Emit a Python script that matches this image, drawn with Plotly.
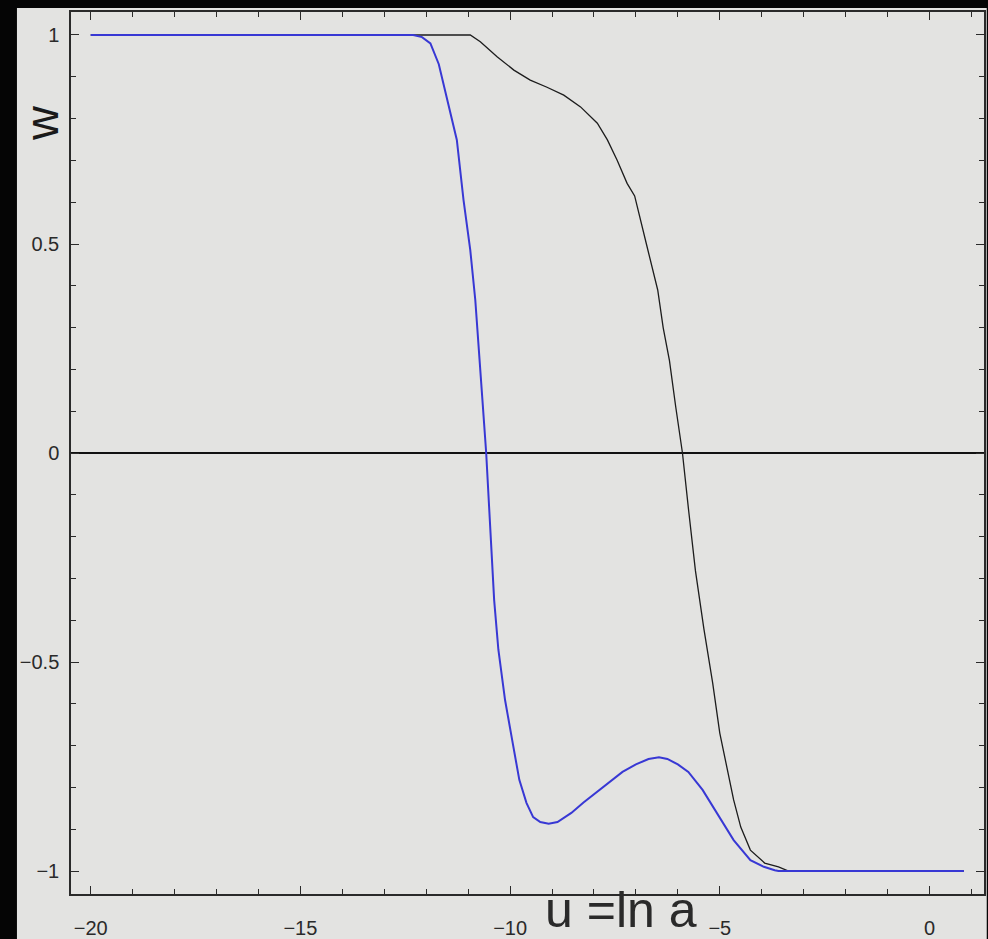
import plotly.graph_objects as go

# ---- data ----
blue_u = [-20.0, -12.31, -12.10, -11.90, -11.70, -11.50, -11.27, -11.11, -10.95, -10.83,
          -10.74, -10.66, -10.57, -10.50, -10.44, -10.38, -10.28, -10.12, -9.95, -9.78,
          -9.61, -9.45, -9.28, -9.08, -8.87, -8.54, -8.25, -7.96, -7.64, -7.32,
          -7.00, -6.70, -6.45, -6.25, -6.00, -5.75, -5.41, -5.08, -4.67, -4.27,
          -3.95, -3.69, -3.60, 0.82]
blue_w = [1.0, 1.0, 0.995, 0.980, 0.930, 0.845, 0.749, 0.605, 0.486, 0.366,
          0.25, 0.127, 0.0, -0.12, -0.235, -0.352, -0.47, -0.591, -0.687, -0.782,
          -0.837, -0.871, -0.883, -0.887, -0.883, -0.861, -0.836, -0.813, -0.788, -0.763,
          -0.745, -0.732, -0.728, -0.732, -0.745, -0.763, -0.806, -0.861, -0.926, -0.974,
          -0.99, -0.998, -1.0, -1.0]

black_u = [-20.0, -10.95, -10.71, -10.31, -9.91, -9.52, -9.12, -8.72, -8.32, -7.92,
           -7.68, -7.45, -7.21, -7.03, -6.75, -6.48, -6.35, -6.20, -6.05, -5.89,
           -5.74, -5.58, -5.38, -5.17, -5.00, -4.84, -4.67, -4.50, -4.27, -3.93,
           -3.60, -3.36, 0.82]
black_w = [1.0, 1.0, 0.984, 0.948, 0.916, 0.892, 0.875, 0.856, 0.828, 0.789,
           0.749, 0.701, 0.645, 0.615, 0.50, 0.39, 0.30, 0.221, 0.11, 0.0,
           -0.14, -0.282, -0.42, -0.55, -0.67, -0.751, -0.830, -0.895, -0.950, -0.981,
           -0.99, -1.0, -1.0]

x_tickvals = [-20, -15, -10, -5, 0]
x_ticktext = ["\u221220", "\u221215", "\u221210", "\u22125", "0"]
y_tickvals = [1, 0.5, 0, -0.5, -1]
y_ticktext = ["1", "0.5", "0", "\u22120.5", "\u22121"]

x_title = "u =ln a"
y_title = "w"

BG = "#e3e3e1"
FONT = "Liberation Sans Narrow, Liberation Sans, Arial, sans-serif"

fig = go.Figure()
fig.add_trace(go.Scatter(x=black_u, y=black_w, mode="lines",
                         line=dict(color="#1c1c1c", width=1.3), showlegend=False))
fig.add_trace(go.Scatter(x=blue_u, y=blue_w, mode="lines",
                         line=dict(color="#3838d4", width=2), showlegend=False))

axis_common = dict(
    showline=True, linecolor="#2a2a2a", linewidth=1.5, mirror="ticks",
    ticks="inside", ticklen=8, tickwidth=1.3, tickcolor="#2a2a2a",
    showgrid=False, tickmode="array", automargin=False,
    tickfont=dict(family=FONT, size=20, color="#2a2a2a"),
)

fig.update_xaxes(
    **axis_common, range=[-20.47, 1.30], zeroline=False,
    tickvals=x_tickvals, ticktext=x_ticktext, ticklabelstandoff=15,
    minor=dict(tickmode="linear", tick0=0, dtick=1, ticks="inside", ticklen=5,
               tickwidth=1.1, tickcolor="#2a2a2a", showgrid=False),
)
fig.update_yaxes(
    **axis_common, range=[-1.055, 1.055], zeroline=True, zerolinecolor="#111111",
    zerolinewidth=1.5, tickvals=y_tickvals, ticktext=y_ticktext, ticklabelstandoff=6,
    minor=dict(tickmode="linear", tick0=0, dtick=0.1, ticks="inside", ticklen=5,
               tickwidth=1.1, tickcolor="#2a2a2a", showgrid=False),
)

fig.update_layout(
    width=988, height=939,
    margin=dict(l=71, r=4, t=12, b=45),
    paper_bgcolor="#050505", plot_bgcolor=BG,
    shapes=[dict(type="rect", xref="paper", yref="paper",
                 x0=-0.0592, x1=1.003, y0=-0.06, y1=1.0045,
                 fillcolor=BG, line=dict(width=0), layer="below")],
    annotations=[
        dict(text=x_title, xref="paper", yref="paper", x=0.602, y=-0.0185,
             xanchor="center", yanchor="middle", showarrow=False,
             font=dict(family=FONT, size=50, color="#2a2a2a")),
        dict(text=y_title, xref="paper", yref="paper", x=-0.033, y=0.874,
             xanchor="center", yanchor="middle", showarrow=False, textangle=-90,
             font=dict(family=FONT, size=47, color="#1a1a1a")),
    ],
)

fig.write_html("out.html")
